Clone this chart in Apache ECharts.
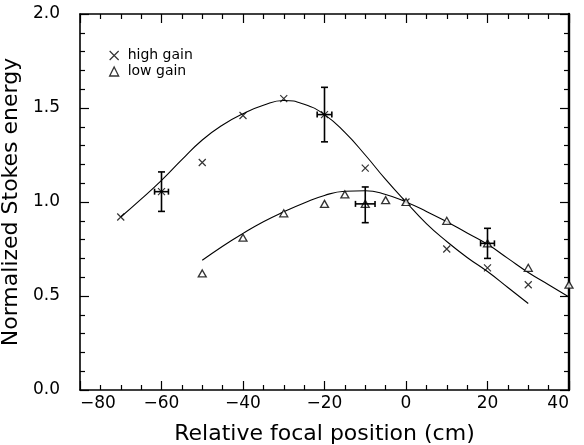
<!DOCTYPE html>
<html>
<head>
<meta charset="utf-8">
<script src="https://cdn.jsdelivr.net/npm/echarts@6/dist/echarts.min.js"></script>
<style>html,body{margin:0;padding:0;background:#fff}#c{width:584px;height:445px}</style>
</head>
<body>
<div id="c"></div>
<script>
// high gain measurements (x marker)
const highX = [-70, -60, -50, -40, -30, -20, -10, 0, 10, 20, 30];
const highY = [0.92, 1.055, 1.21, 1.46, 1.55, 1.465, 1.18, 1.0, 0.75, 0.65, 0.56];
// low gain measurements (triangle marker)
const lowX = [-50, -40, -30, -20, -15, -10, -5, 0, 10, 20, 30, 40];
const lowY = [0.62, 0.81, 0.94, 0.99, 1.04, 0.99, 1.01, 1.0, 0.90, 0.78, 0.65, 0.56];
// error bars
const errX = [-60, -20, -10, 20];
const errY = [1.055, 1.465, 0.99, 0.78];
const errLo = [0.95, 1.32, 0.89, 0.70];
const errHi = [1.16, 1.61, 1.08, 0.86];
const errDx = [1.7, 1.8, 2.4, 1.7];
// fitted curves
const fitHighX = [-70,-65,-60,-55,-50,-45,-40,-35,-30,-25,-20,-15,-10,-5,0,5,10,15,20,25,30];
const fitHighY = [0.92,1.015,1.115,1.225,1.33,1.41,1.47,1.515,1.54,1.52,1.465,1.37,1.25,1.12,1.0,0.885,0.79,0.705,0.63,0.545,0.46];
const fitLowX = [-50,-45,-40,-35,-30,-25,-20,-15,-10,-5,0,5,10,15,20,25,30,35,40];
const fitLowY = [0.69,0.765,0.833,0.895,0.948,0.995,1.035,1.057,1.06,1.04,1.0,0.95,0.895,0.835,0.775,0.70,0.625,0.56,0.495];
// axis settings
const xMin = -80, xMax = 40, xStep = 20;
const yMin = 0, yMax = 2, yStep = 0.5;
const xTitle = 'Relative focal position (cm)';
const yTitle = 'Normalized Stokes energy';
const names = ['high gain', 'low gain'];

const zip = (a, b) => a.map((v, i) => [v, b[i]]);
const FONT = 'DejaVu Sans';
const crossPath = 'path://M0,0L10,10M10,0L0,10';

const chart = echarts.init(document.getElementById('c'), null, {renderer: 'canvas'});

const axisCommon = {
  axisLine: {show: true, onZero: false, lineStyle: {color: '#000', width: 1.6}},
  axisTick: {show: true, inside: true, length: 9, lineStyle: {color: '#000', width: 1.2}},
  minorTick: {show: true, length: 5, lineStyle: {color: '#000', width: 1.2}},
  splitLine: {show: false},
};

chart.setOption({
  animation: false,
  backgroundColor: '#fff',
  grid: {left: 80, right: 15, top: 14, bottom: 55, containLabel: false, outerBoundsMode: 'none'},
  legend: {
    left: 104, top: 43, orient: 'vertical', itemGap: 1, itemWidth: 9, itemHeight: 9,
    textStyle: {fontFamily: FONT, fontSize: 14, lineHeight: 15, color: '#000', padding: [0, 0, 0, 4]},
    data: [
      {name: names[0], icon: crossPath, itemStyle: {color: 'transparent', borderColor: '#000', borderWidth: 1.2}},
      {name: names[1], icon: 'triangle', itemStyle: {color: '#fff', borderColor: '#000', borderWidth: 1.3}}
    ]
  },
  xAxis: [
    Object.assign({}, axisCommon, {
      type: 'value', min: xMin, max: xMax, interval: xStep, position: 'bottom',
      minorTick: Object.assign({}, axisCommon.minorTick, {splitNumber: 4}),
      name: xTitle, nameLocation: 'middle', nameGap: 33,
      nameTextStyle: {fontFamily: FONT, fontSize: 22, color: '#000'},
      axisLabel: {fontFamily: FONT, fontSize: 17, color: '#000', margin: 5,
        alignMinLabel: 'left', alignMaxLabel: 'right',
        formatter: v => String(v).replace('-', '\u2212')}
    }),
    Object.assign({}, axisCommon, {
      type: 'value', min: xMin, max: xMax, interval: xStep, position: 'top',
      minorTick: Object.assign({}, axisCommon.minorTick, {splitNumber: 4}),
      axisLabel: {show: false}
    })
  ],
  yAxis: [
    Object.assign({}, axisCommon, {
      type: 'value', min: yMin, max: yMax, interval: yStep, position: 'left',
      minorTick: Object.assign({}, axisCommon.minorTick, {splitNumber: 5}),
      name: yTitle, nameLocation: 'middle', nameGap: 50,
      nameTextStyle: {fontFamily: FONT, fontSize: 22, color: '#000'},
      axisLabel: {fontFamily: FONT, fontSize: 17, color: '#000', margin: 20,
        formatter: v => v.toFixed(1)}
    }),
    Object.assign({}, axisCommon, {
      type: 'value', min: yMin, max: yMax, interval: yStep, position: 'right',
      axisLine: {show: true, onZero: false, lineStyle: {color: '#000', width: 2.4}},
      minorTick: Object.assign({}, axisCommon.minorTick, {splitNumber: 5}),
      axisLabel: {show: false}
    })
  ],
  series: [
    {
      name: 'fit high', type: 'line', data: zip(fitHighX, fitHighY), smooth: 0.5,
      showSymbol: false, symbol: 'none', clip: true,
      lineStyle: {color: '#000', width: 1.1}, z: 2, silent: true
    },
    {
      name: 'fit low', type: 'line', data: zip(fitLowX, fitLowY), smooth: 0.5,
      showSymbol: false, symbol: 'none', clip: true,
      lineStyle: {color: '#000', width: 1.1}, z: 2, silent: true
    },
    {
      name: names[0], type: 'scatter', data: zip(highX, highY), symbol: crossPath, symbolSize: 7,
      itemStyle: {color: 'transparent', borderColor: '#000', borderWidth: 1.2}, z: 3
    },
    {
      name: names[1], type: 'scatter', data: zip(lowX, lowY), symbol: 'triangle', symbolSize: [8, 7],
      itemStyle: {color: '#fff', borderColor: '#000', borderWidth: 1.3}, z: 3, clip: true
    },
    {
      name: 'errors', type: 'custom', z: 4,
      data: errX.map((x, i) => [x, errY[i], errLo[i], errHi[i], errDx[i]]),
      encode: {x: 0, y: 1},
      renderItem: function (params, api) {
        const x = api.value(0), y = api.value(1), lo = api.value(2), hi = api.value(3), dx = api.value(4);
        const pLo = api.coord([x, lo]);
        const pHi = api.coord([x, hi]);
        const pL = api.coord([x - dx, y]);
        const pR = api.coord([x + dx, y]);
        const cw = 3.5, ch = 3;
        const st = {stroke: '#000', lineWidth: 1.6};
        const ln = (x1, y1, x2, y2) => ({type: 'line', shape: {x1, y1, x2, y2}, style: st});
        return {type: 'group', children: [
          ln(pLo[0], pLo[1], pHi[0], pHi[1]),
          ln(pLo[0] - cw, pLo[1], pLo[0] + cw, pLo[1]),
          ln(pHi[0] - cw, pHi[1], pHi[0] + cw, pHi[1]),
          ln(pL[0], pL[1], pR[0], pR[1]),
          ln(pL[0], pL[1] - ch, pL[0], pL[1] + ch),
          ln(pR[0], pR[1] - ch, pR[0], pR[1] + ch)
        ]};
      }
    }
  ]
});
</script>
</body>
</html>
